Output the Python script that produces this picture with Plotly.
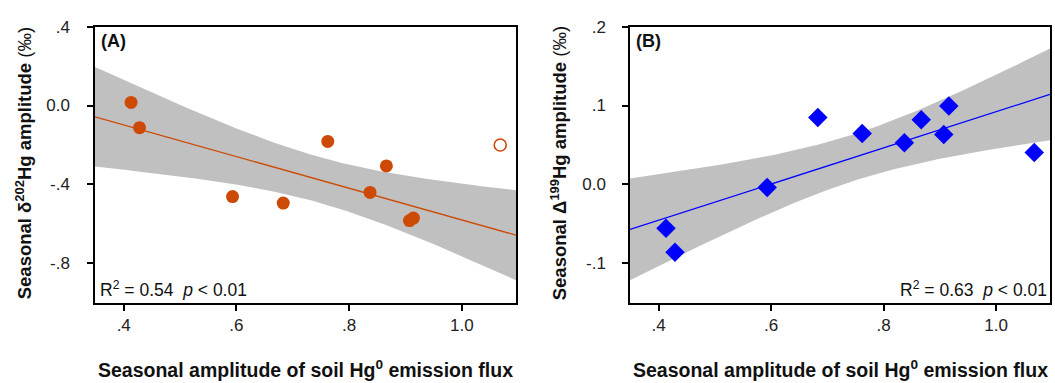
import numpy as np
import plotly.graph_objects as go

# Data
flux_amp = [0.413, 0.428, 0.593, 0.683, 0.762, 0.837, 0.866, 0.907, 0.914]
d202_amp = [0.016, -0.112, -0.461, -0.494, -0.182, -0.440, -0.306, -0.583, -0.570]
flux_outlier = [1.068]
d202_outlier = [-0.200]

flux_amp_b = [0.413, 0.429, 0.593, 0.683, 0.762, 0.837, 0.867, 0.907, 0.916, 1.068]
D199_amp = [-0.0555, -0.0857, -0.0037, 0.0849, 0.0646, 0.053, 0.082, 0.0634, 0.0994, 0.0406]

x_ticks = [0.4, 0.6, 0.8, 1.0]
x_ticktext = [".4", ".6", ".8", "1.0"]
yA_ticks = [0.4, 0.0, -0.4, -0.8]
yA_ticktext = [".4", "0.0", "-.4", "-.8"]
yB_ticks = [0.2, 0.1, 0.0, -0.1]
yB_ticktext = [".2", ".1", "0.0", "-.1"]

X_RANGE = [0.349, 1.096]
T_CRIT = {7: 2.365, 8: 2.306}

ORANGE = "#CC4A06"
BLUE = "#0000FF"
GREY = "#C0C0C0"


def fit_band(x, y, x_all):
    x = np.asarray(x, float)
    y = np.asarray(y, float)
    xa = np.asarray(x_all, float)
    n = len(x)
    slope, intercept = np.polyfit(x, y, 1)
    resid = y - (slope * x + intercept)
    s = np.sqrt(np.sum(resid ** 2) / (n - 2))
    sxx = np.sum((xa - xa.mean()) ** 2)
    xg = np.linspace(X_RANGE[0], X_RANGE[1], 150)
    yg = slope * xg + intercept
    se = s * np.sqrt(1.0 / len(xa) + (xg - xa.mean()) ** 2 / sxx)
    t = T_CRIT[n - 2]
    return xg, yg, yg - t * se, yg + t * se


fig = go.Figure()

# Panel A
xg, yg, lo, hi = fit_band(flux_amp, d202_amp, flux_amp + flux_outlier)
fig.add_trace(go.Scatter(x=np.concatenate([xg, xg[::-1]]), y=np.concatenate([hi, lo[::-1]]),
                         fill="toself", fillcolor=GREY, line=dict(width=0), mode="lines",
                         hoverinfo="skip", showlegend=False, xaxis="x", yaxis="y"))
fig.add_trace(go.Scatter(x=xg, y=yg, mode="lines", line=dict(color=ORANGE, width=1.3),
                         showlegend=False, xaxis="x", yaxis="y"))
fig.add_trace(go.Scatter(x=flux_amp, y=d202_amp, mode="markers",
                         marker=dict(symbol="circle", size=13, color=ORANGE, line=dict(width=0)),
                         showlegend=False, xaxis="x", yaxis="y"))
fig.add_trace(go.Scatter(x=flux_outlier, y=d202_outlier, mode="markers",
                         marker=dict(symbol="circle-open", size=12, color=ORANGE, line=dict(width=1.6)),
                         showlegend=False, xaxis="x", yaxis="y"))

# Panel B
xg, yg, lo, hi = fit_band(flux_amp_b, D199_amp, flux_amp_b)
fig.add_trace(go.Scatter(x=np.concatenate([xg, xg[::-1]]), y=np.concatenate([hi, lo[::-1]]),
                         fill="toself", fillcolor=GREY, line=dict(width=0), mode="lines",
                         hoverinfo="skip", showlegend=False, xaxis="x2", yaxis="y2"))
fig.add_trace(go.Scatter(x=xg, y=yg, mode="lines", line=dict(color=BLUE, width=1.3),
                         showlegend=False, xaxis="x2", yaxis="y2"))
fig.add_trace(go.Scatter(x=flux_amp_b, y=D199_amp, mode="markers",
                         marker=dict(symbol="diamond", size=15, color=BLUE, line=dict(width=0)),
                         showlegend=False, xaxis="x2", yaxis="y2"))

W, H = 1055, 383
top, bottom = 18, 301
yd = [1 - bottom / H, 1 - top / H]
xdA = [95 / W, 516 / W]
xdB = [630 / W, 1050 / W]

tickfont = dict(family="Liberation Sans, Arial", size=17, color="#222")
axis_common = dict(showline=True, linecolor="black", linewidth=1.5, mirror=True,
                   ticks="outside", ticklen=6, tickwidth=1.5, tickcolor="black",
                   showgrid=False, zeroline=False, tickfont=tickfont)

fig.update_layout(
    width=W, height=H, margin=dict(l=0, r=0, t=0, b=0),
    plot_bgcolor="white", paper_bgcolor="white",
    xaxis=dict(domain=xdA, range=X_RANGE, tickvals=x_ticks, ticktext=x_ticktext,
               anchor="y", ticklabelstandoff=0, **axis_common),
    yaxis=dict(domain=yd, range=[-1.0, 0.4], tickvals=yA_ticks, ticktext=yA_ticktext,
               anchor="x", ticklabelstandoff=14, **axis_common),
    xaxis2=dict(domain=xdB, range=X_RANGE, tickvals=x_ticks, ticktext=x_ticktext,
                anchor="y2", ticklabelstandoff=0, **axis_common),
    yaxis2=dict(domain=yd, range=[-0.15, 0.2], tickvals=yB_ticks, ticktext=yB_ticktext,
                anchor="x2", ticklabelstandoff=13, **axis_common),
)

font_title = dict(family="Liberation Sans, Arial", size=19.5, color="#111")
font_ytitle = dict(family="Liberation Sans, Arial", size=18.5, color="#111")
font_lab = dict(family="Liberation Sans, Arial", size=18, color="#111")
font_txt = dict(family="Liberation Sans, Arial", size=17.5, color="#111")

ann = []
ann.append(dict(text="<b>(A)</b>", x=99 / W, y=1 - 33 / H, xref="paper", yref="paper",
                xanchor="left", yanchor="middle", showarrow=False, font=font_lab))
ann.append(dict(text="<b>(B)</b>", x=634 / W, y=1 - 33 / H, xref="paper", yref="paper",
                xanchor="left", yanchor="middle", showarrow=False, font=font_lab))
ann.append(dict(text="R<sup>2</sup> = 0.54  <i>p</i> < 0.01", x=98 / W, y=1 - 287 / H,
                xref="paper", yref="paper", xanchor="left", yanchor="middle",
                showarrow=False, font=font_txt))
ann.append(dict(text="R<sup>2</sup> = 0.63  <i>p</i> < 0.01", x=1049 / W, y=1 - 287 / H,
                xref="paper", yref="paper", xanchor="right", yanchor="middle",
                showarrow=False, font=font_txt))
for cx in [(95 + 516) / 2 / W, (630 + 1050) / 2 / W]:
    ann.append(dict(text="<b>Seasonal amplitude of soil Hg<sup>0</sup> emission flux</b>",
                    x=cx, y=1 - 369 / H, xref="paper", yref="paper",
                    xanchor="center", yanchor="middle", showarrow=False, font=font_title))
ann.append(dict(text="<b>Seasonal δ<sup>202</sup>Hg amplitude</b> (‰)", x=24 / W, y=1 - 158 / H,
                xref="paper", yref="paper", xanchor="center", yanchor="middle",
                textangle=-90, showarrow=False, font=font_ytitle))
ann.append(dict(text="<b>Seasonal Δ<sup>199</sup>Hg amplitude</b> (‰)", x=559 / W, y=1 - 158 / H,
                xref="paper", yref="paper", xanchor="center", yanchor="middle",
                textangle=-90, showarrow=False, font=font_ytitle))
fig.update_layout(annotations=ann)

fig.write_html("out.html", config=dict(displayModeBar=False),
               post_script="document.body.style.margin='0';document.body.style.padding='0';"
                           "document.body.style.overflow='hidden';")
